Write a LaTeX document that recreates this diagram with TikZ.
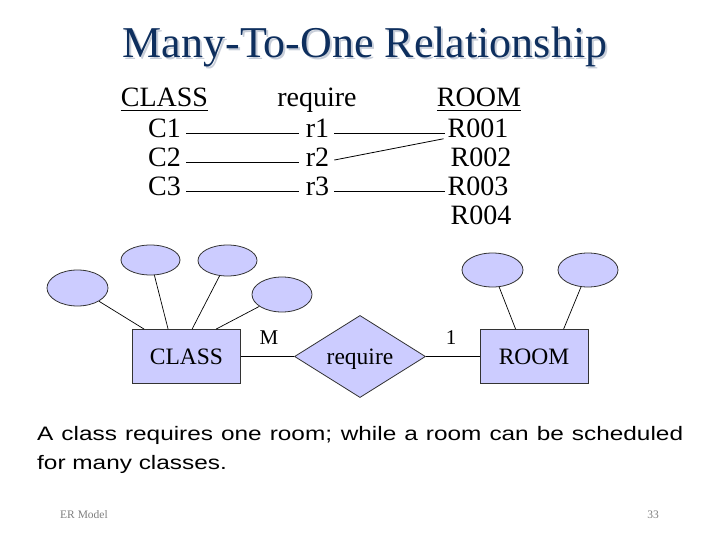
\documentclass[tikz,border=0pt]{standalone}
\usepackage{fontspec}
\setmainfont{Liberation Serif}
\newfontfamily\bodysans[FakeStretch=1.25]{Liberation Sans}
\usetikzlibrary{shapes.geometric,calc}
\definecolor{titleblue}{HTML}{0E2F5E}
\definecolor{shadowgray}{HTML}{C8CED9}
\definecolor{erfill}{HTML}{CCCCFF}
\definecolor{erline}{HTML}{333333}
\begin{document}
\begin{tikzpicture}[x=1pt,y=-1pt,
  tbl/.style={inner sep=0pt,anchor=base,font=\fontsize{28}{30}\selectfont},
  tline/.style={line width=0.8pt,black},
  ent/.style={draw=erline,fill=erfill,line width=0.8pt,minimum width=108pt,minimum height=54pt,inner sep=0pt,font=\fontsize{23.5}{26}\selectfont},
  rel/.style={diamond,draw=erline,fill=erfill,line width=0.8pt,minimum width=131pt,minimum height=64pt,inner sep=0pt,text depth=0pt,font=\fontsize{23.5}{26}\selectfont},
  attr/.style={ellipse,draw=erline,fill=erfill,line width=0.8pt,inner sep=0pt},
  conn/.style={line width=0.7pt,black},
  card/.style={inner sep=0pt,font=\fontsize{21}{24}\selectfont},
  foot/.style={inner sep=0pt,text=gray,font=\fontsize{11.5}{13}\selectfont}]
\useasboundingbox (0,0) rectangle (720,540);
\fill[white] (0,0) rectangle (720,540);
% title
\node[inner sep=0pt,anchor=base,text=shadowgray,font=\fontsize{44}{48}\selectfont] (titleshadow) at (367,60) {Many-To-One Relationship};
\node[inner sep=0pt,anchor=base,text=titleblue,font=\fontsize{44}{48}\selectfont] (title) at (365,58) {Many-To-One Relationship};
% table
\node[tbl] (hcls) at (164.5,107) {CLASS};
\node[tbl] (hreq) at (317,107) {require};
\node[tbl] (hroom) at (479,107) {ROOM};
\draw[line width=1.6pt] ([yshift=-3.5]hcls.base west) -- ([yshift=-3.5]hcls.base east);
\draw[line width=1.6pt] ([yshift=-3.5]hroom.base west) -- ([yshift=-3.5]hroom.base east);
\node[tbl] (c1) at (164.5,138) {C1};
\node[tbl] (c2) at (164.5,167) {C2};
\node[tbl] (c3) at (164.5,196) {C3};
\node[tbl] (r1) at (317.5,138) {r1};
\node[tbl] (r2) at (317.5,167) {r2};
\node[tbl] (r3) at (317.5,196) {r3};
\node[tbl] (R1) at (478,138) {R001};
\node[tbl] (R2) at (481,167) {R002};
\node[tbl] (R3) at (478,196) {R003};
\node[tbl] (R4) at (481,225) {R004};
\draw[tline,shorten <=5pt,shorten >=7pt] ([yshift=5]c1.base east) -- ([yshift=5]r1.base west);
\draw[tline,shorten <=5pt,shorten >=7pt] ([yshift=5]c2.base east) -- ([yshift=5]r2.base west);
\draw[tline,shorten <=5pt,shorten >=7pt] ([yshift=5]c3.base east) -- ([yshift=5]r3.base west);
\draw[tline,shorten <=5pt,shorten >=2pt] ([yshift=5]r1.base east) -- ([yshift=5]R1.base west);
\draw[tline,shorten <=5pt,shorten >=4pt] ([yshift=6]r2.base east) -- ([yshift=0]R1.base west);
\draw[tline,shorten <=5pt,shorten >=2pt] ([yshift=5]r3.base east) -- ([yshift=5]R3.base west);
% ER diagram
\node[ent] (cls) at (186.5,356.5) {CLASS};
\node[rel] (req) at (360,356.5) {require};
\node[ent] (room) at (534,356.5) {ROOM};
\node[attr,minimum width=61pt,minimum height=36pt] (e1) at (77.5,288) {};
\node[attr,minimum width=59pt,minimum height=30pt] (e2) at (150.5,260) {};
\node[attr,minimum width=59pt,minimum height=31pt] (e3) at (227.5,260.5) {};
\node[attr,minimum width=60pt,minimum height=35pt] (e4) at (282,294.5) {};
\node[attr,minimum width=61pt,minimum height=34pt] (e5) at (492.5,270) {};
\node[attr,minimum width=60pt,minimum height=34pt] (e6) at (588,270) {};
\draw[conn] (e1) -- ($(cls.north west)+(12,0)$);
\draw[conn] (e2) -- ($(cls.north west)+(36,0)$);
\draw[conn] (e3) -- ($(cls.north west)+(60,0)$);
\draw[conn] (e4) -- ($(cls.north west)+(84,0)$);
\draw[conn] (e5) -- ($(room.north west)+(36,0)$);
\draw[conn] (e6) -- ($(room.north west)+(84,0)$);
\draw[conn] (cls.east) -- (req.west);
\draw[conn] (req.east) -- (room.west);
\node[card] (m) at (269,338) {M};
\node[card] (one) at (451,338) {1};
% caption
\node[inner sep=0pt,anchor=base west,font=\bodysans\fontsize{19.5}{29}\selectfont] (cap1) at (37,440) {\makebox[646pt][s]{A class requires one room; while a room can be scheduled}};
\node[inner sep=0pt,anchor=base west,font=\bodysans\fontsize{19.5}{29}\selectfont] (cap2) at (37,469) {for many classes.};
% footer
\node[foot,anchor=base west] (fl) at (60,518) {ER Model};
\node[foot,anchor=base east] (fr) at (659,518) {33};
\end{tikzpicture}
\end{document}
